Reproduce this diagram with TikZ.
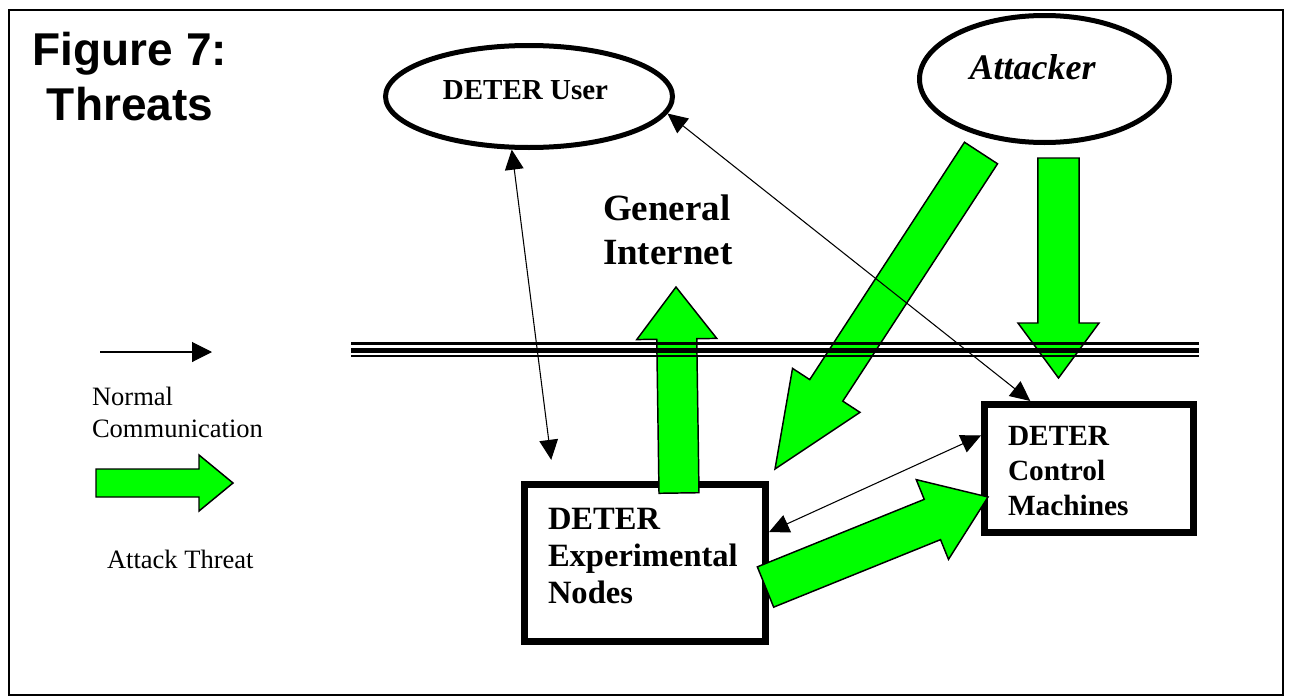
\documentclass[tikz,border=0pt]{standalone}
\usepackage{fontspec}
\setmainfont{Liberation Serif}
\setsansfont{Liberation Sans}
\usetikzlibrary{calc,arrows.meta,shapes.geometric}
\definecolor{threatgreen}{RGB}{0,255,0}
\newcommand{\threatarrow}[5]{%
  \coordinate (hb) at ($(#2)!#5!(#1)$);
  \filldraw[threatfill] ($(#1)!#3!90:(#2)$) -- ($(hb)!#3!90:(#2)$) -- ($(hb)!#4!90:(#2)$) -- (#2)
    -- ($(hb)!#4!-90:(#2)$) -- ($(hb)!#3!-90:(#2)$) -- ($(#1)!#3!-90:(#2)$) -- cycle;}
\begin{document}
\begin{tikzpicture}[x=0.75pt,y=-0.75pt,
  boxnode/.style={draw, rectangle, line width=5.25pt, inner sep=0pt},
  ovalnode/.style={draw, ellipse, line width=3.75pt, inner sep=0pt},
  threatfill/.style={fill=threatgreen, draw=black, line width=1.1pt, line join=miter},
  comm/.style={draw=black, line width=0.8pt, arrows={Triangle[length=15pt,width=14pt]-Triangle[length=15pt,width=14pt]}},
  commone/.style={draw=black, line width=0.8pt, arrows={-Triangle[length=15pt,width=15pt]}},
  txt/.style={inner sep=0pt, outer sep=0pt}]
\useasboundingbox (0,0) rectangle (1289,696);
\draw[line width=1.5pt] (9,10.3) rectangle (1282.7,694.5);

% boxes and ovals
\node[boxnode, minimum width=180.75pt, minimum height=117.75pt] (exp) at (645,563) {};
\node[boxnode, minimum width=156.75pt, minimum height=96pt] (ctrl) at (1089,468.5) {};
\node[ovalnode, minimum width=215.25pt, minimum height=76.5pt] (user) at (529,96.5) {};
\node[ovalnode, minimum width=187.5pt, minimum height=95.25pt] (attacker) at (1044.5,79) {};

% threat arrows
\coordinate (a1t) at (981,153);   \coordinate (a1p) at (775,469);
\coordinate (a2t) at (1058.5,158); \coordinate (a2p) at (1058.5,378);
\coordinate (a3t) at (679,493);   \coordinate (a3p) at (676,287);
\coordinate (a4t) at (765.5,587); \coordinate (a4p) at (988,497);
\coordinate (lgt) at (96,483);    \coordinate (lgp) at (233,483);
\threatarrow{a1t}{a1p}{14.8pt}{30.2pt}{70.4pt}
\threatarrow{a2t}{a2p}{15.4pt}{30.4pt}{41.25pt}
\threatarrow{a3t}{a3p}{15pt}{30pt}{39pt}
\threatarrow{a4t}{a4p}{16.3pt}{32.25pt}{45pt}
\threatarrow{lgt}{lgp}{10.5pt}{21pt}{25.5pt}

% triple line
\draw[line width=2pt] (351,343.3) -- (1199,343.3);
\draw[line width=3.75pt] (351,350.2) -- (1199,350.2);
\draw[line width=2pt] (351,356) -- (1199,356);

% normal communication
\draw[comm, shorten >=16pt] (user.252.2) -- (exp.138.4);
\draw[comm] (user.-7.6) -- (ctrl.131.6);
\draw[comm] (exp.14) -- (ctrl.163.7);
\coordinate (lgs) at (100,352); \coordinate (lge) at (212,352);
\draw[commone] (lgs) -- (lge);

% texts (multi-line nodes: base anchor is the last line's baseline)
\node[txt, anchor=base, align=center, font=\sffamily\bfseries\fontsize{34.5}{41.25}\selectfont] (title) at (130,120) {Figure 7:\\Threats};
\node[txt, anchor=base, font=\bfseries\fontsize{21.75}{26}\selectfont] (usertext) at (525.5,99) {DETER User};
\node[txt, anchor=base, font=\bfseries\itshape\fontsize{27}{32}\selectfont] (attext) at (1032.5,79) {Attacker};
\node[txt, anchor=base west, align=left, font=\bfseries\fontsize{27.75}{33}\selectfont] (inet) at (603,264) {General\\Internet};
\node[txt, anchor=base west, align=left, font=\bfseries\fontsize{24.4}{27.75}\selectfont] (exptext) at (548,603) {DETER\\Experimental\\Nodes};
\node[txt, anchor=base west, align=left, font=\bfseries\fontsize{22}{26.25}\selectfont] (ctrltext) at (1008,515) {DETER\\Control\\Machines};
\node[txt, anchor=base west, align=left, font=\fontsize{19.9}{24}\selectfont] (lgn) at (92,437) {Normal\\Communication};
\node[txt, anchor=base west, font=\fontsize{19.9}{24}\selectfont] (lga) at (107,568) {Attack Threat};
\end{tikzpicture}
\end{document}
